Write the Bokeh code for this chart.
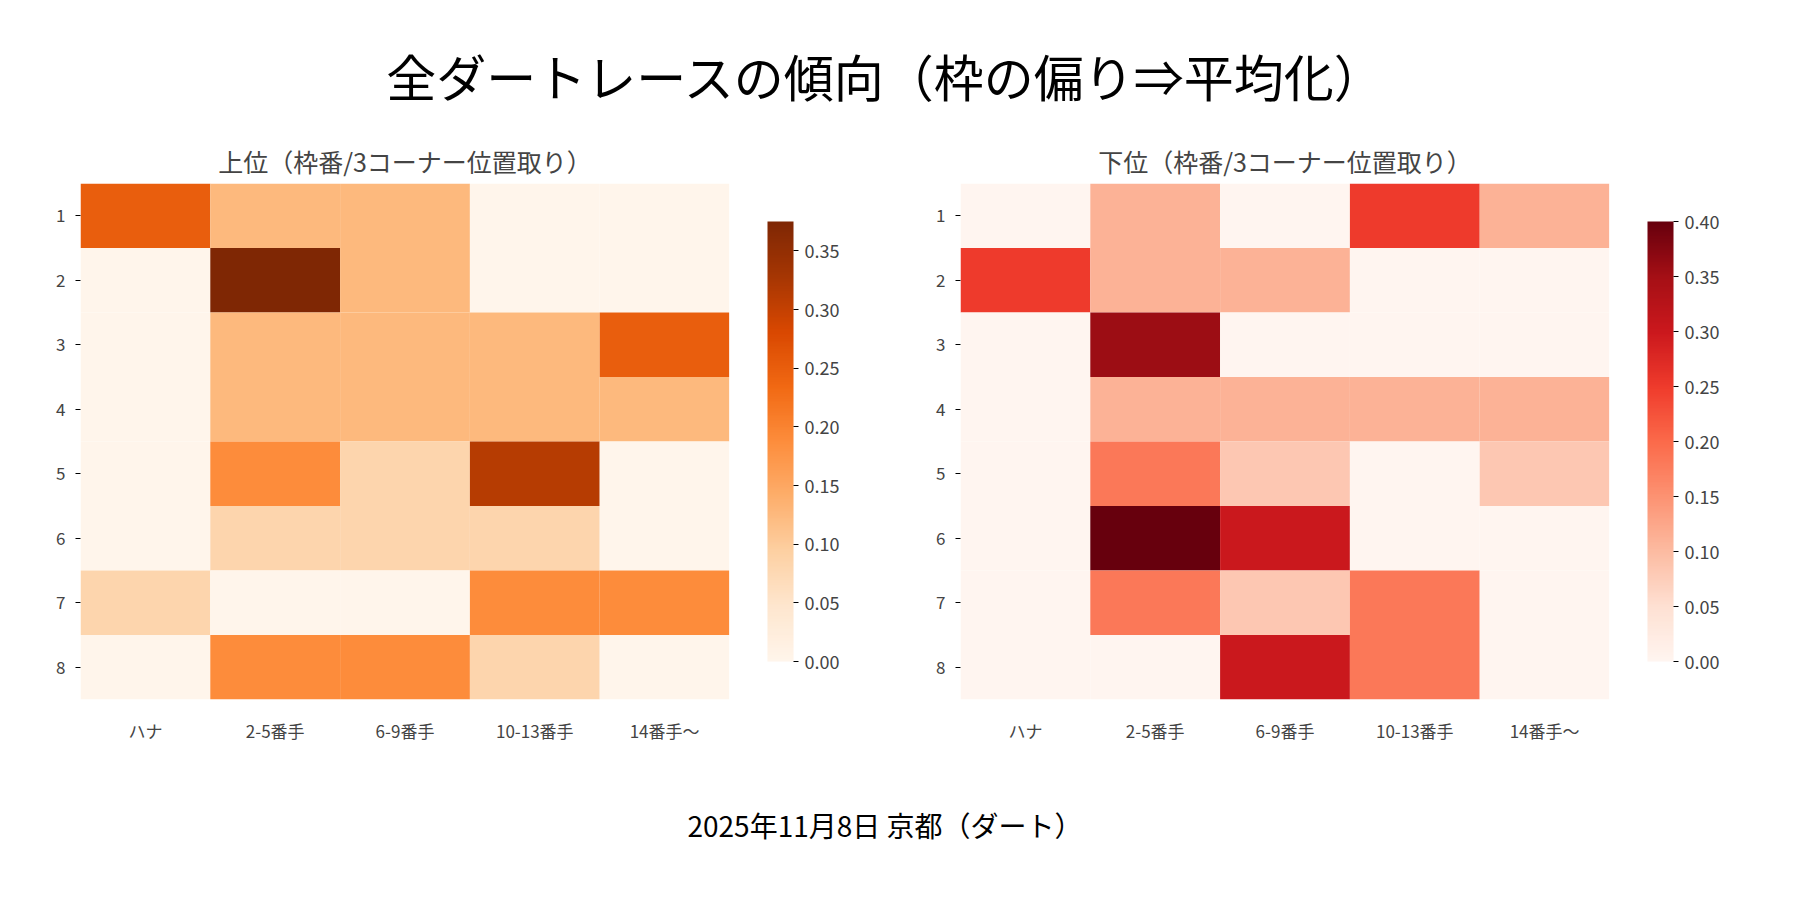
from bokeh.plotting import figure
from bokeh.models import LinearColorMapper, ColorBar, Div, FixedTicker, ColumnDataSource, NumeralTickFormatter
from bokeh.layouts import column, row
from bokeh.palettes import Oranges256, Reds256
from bokeh.embed import file_html
from bokeh.resources import INLINE

cols = ["ハナ", "2-5番手", "6-9番手", "10-13番手", "14番手〜"]
rows_ = ["1", "2", "3", "4", "5", "6", "7", "8"]
top = [
    [0.25, 0.125, 0.125, 0, 0],
    [0, 0.375, 0.125, 0, 0],
    [0, 0.125, 0.125, 0.125, 0.25],
    [0, 0.125, 0.125, 0.125, 0.125],
    [0, 0.1875, 0.0833, 0.3125, 0],
    [0, 0.0833, 0.0833, 0.0833, 0],
    [0.0833, 0, 0, 0.1875, 0.1875],
    [0, 0.1875, 0.1875, 0.0833, 0],
]
bottom = [
    [0, 0.111, 0, 0.25, 0.111],
    [0.25, 0.111, 0.111, 0, 0],
    [0, 0.357, 0, 0, 0],
    [0, 0.111, 0.111, 0.111, 0.111],
    [0, 0.182, 0.083, 0, 0.083],
    [0, 0.40, 0.30, 0, 0],
    [0, 0.182, 0.083, 0.182, 0],
    [0, 0, 0.30, 0.182, 0],
]
FONT = "Noto Sans CJK JP"

def panel(title, data, pal, high, ticks):
    xs, ys, vs = [], [], []
    for i, r in enumerate(rows_):
        for j, c in enumerate(cols):
            xs.append(c); ys.append(r); vs.append(data[i][j])
    src = ColumnDataSource(dict(x=xs, y=ys, v=vs))
    mapper = LinearColorMapper(palette=list(reversed(pal)), low=0, high=high)
    p = figure(x_range=cols, y_range=list(reversed(rows_)), width=880, height=610,
               output_backend="svg", toolbar_location=None, title=title,
               min_border_left=80, min_border_right=40)
    p.rect("x", "y", 1, 1, source=src, fill_color={"field": "v", "transform": mapper}, line_color=None)
    cb = ColorBar(color_mapper=mapper, width=26, ticker=FixedTicker(ticks=ticks),
                  major_label_text_font=FONT, major_label_text_font_size="18px",
                  major_tick_line_color="black", major_tick_in=0, major_tick_out=5,
                  padding=38, margin=0, label_standoff=6,
                  formatter=NumeralTickFormatter(format="0.00"))
    p.add_layout(cb, "right")
    p.title.text_font = FONT
    p.title.text_font_size = "25px"
    p.title.text_font_style = "normal"
    p.title.align = "center"
    p.grid.visible = False
    p.outline_line_color = None
    for ax in (p.xaxis, p.yaxis):
        ax.axis_line_color = None
        ax.major_label_text_font = FONT
        ax.major_label_text_font_size = "17px"
        ax.minor_tick_line_color = None
    p.xaxis.major_tick_line_color = None
    p.xaxis.major_label_standoff = 12
    p.yaxis.major_tick_out = 5
    p.yaxis.major_tick_in = 0
    p.yaxis.major_label_standoff = 10
    return p

p1 = panel("上位（枠番/3コーナー位置取り）", top, Oranges256, 0.375, [0, 0.05, 0.1, 0.15, 0.2, 0.25, 0.3, 0.35])
p2 = panel("下位（枠番/3コーナー位置取り）", bottom, Reds256, 0.40, [0, 0.05, 0.1, 0.15, 0.2, 0.25, 0.3, 0.35, 0.4])

t = Div(text="全ダートレースの傾向（枠の偏り⇒平均化）", width=1760, height=125,
        styles={"font-family": FONT, "font-size": "50px", "text-align": "center", "width": "1760px", "padding-top": "35px"})
f = Div(text="2025年11月8日 京都（ダート）", width=1760, height=60,
        styles={"font-family": FONT, "font-size": "28px", "text-align": "center", "width": "1760px", "padding-top": "55px"})
layout = column(t, row(p1, p2), f)
open("out.html", "w").write(file_html(layout, INLINE))
